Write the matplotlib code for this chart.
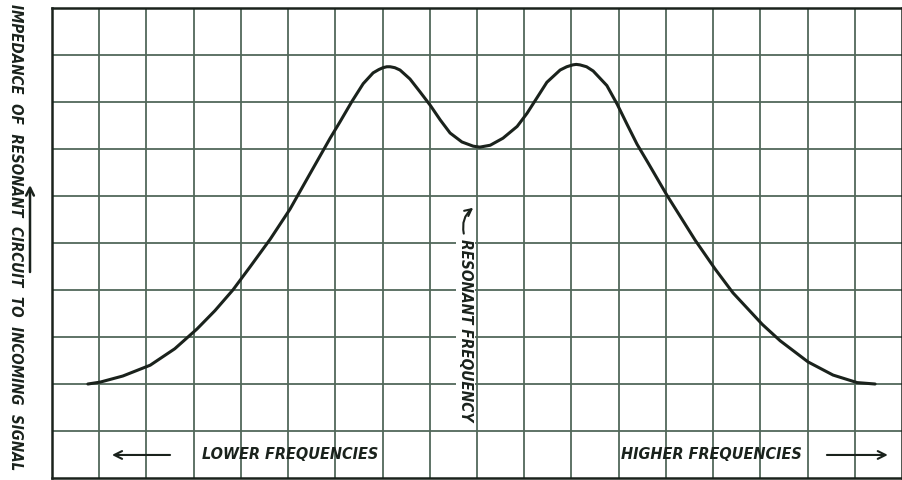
import matplotlib
matplotlib.use("Agg")
import matplotlib.pyplot as plt

# curve (x in columns, y in rows)
freq = [0.76, 1.02, 1.5, 2.08, 2.6, 3.07, 3.45, 3.83, 4.2, 4.62, 5.04, 5.45, 5.89, 6.10, 6.35,
        6.59, 6.80, 6.92, 7.01, 7.09, 7.16, 7.26, 7.37, 7.58, 7.79, 8.01, 8.22, 8.43, 8.68,
        8.92, 9.06, 9.28, 9.55, 9.85, 10.06, 10.27, 10.48, 10.76, 10.90, 11.03, 11.10, 11.18,
        11.32, 11.46, 11.75, 11.97, 12.18, 12.39, 12.62, 13.02, 13.62, 14.04, 14.42, 15.04,
        15.42, 16.01, 16.54, 17.05, 17.43]
imped = [2.00, 2.04, 2.17, 2.40, 2.75, 3.17, 3.56, 4.00, 4.50, 5.08, 5.72, 6.45, 7.23, 7.58, 8.01,
         8.39, 8.62, 8.69, 8.73, 8.75, 8.75, 8.73, 8.68, 8.49, 8.22, 7.93, 7.62, 7.34, 7.15,
         7.06, 7.04, 7.08, 7.23, 7.48, 7.76, 8.09, 8.42, 8.68, 8.75, 8.79, 8.80, 8.79,
         8.75, 8.66, 8.35, 7.95, 7.52, 7.10, 6.71, 6.02, 5.06, 4.45, 3.94, 3.27,
         2.92, 2.47, 2.19, 2.03, 2.00]

n_cols = 18
n_rows = 10

grid_col = "#52685a"
ink = "#1a221c"
font = dict(family="DejaVu Sans", fontweight="bold", fontstyle="italic",
            fontstretch="condensed", color=ink)

fig = plt.figure(figsize=(9.03, 4.80), dpi=100)
ax = fig.add_axes([52 / 903, 2 / 480, 850 / 903, 470 / 480])
ax.set_xlim(0, n_cols)
ax.set_ylim(0, n_rows)

for i in range(1, n_cols):
    ax.axvline(i, color=grid_col, lw=1.3, zorder=1)
for j in range(1, n_rows):
    ax.axhline(j, color=grid_col, lw=1.3, zorder=1)

for s in ax.spines.values():
    s.set_color(ink)
    s.set_linewidth(1.8)
ax.set_xticks([])
ax.set_yticks([])

ax.plot(freq, imped, color=ink, lw=2.2, zorder=3, solid_capstyle="round",
        solid_joinstyle="round")

# resonant frequency marker
ax.text(8.75, 3.15, "RESONANT FREQUENCY", rotation=270, ha="center", va="center",
        fontsize=11, zorder=4, bbox=dict(facecolor="white", edgecolor="none", pad=1.5), **font)
ax.annotate("", xy=(8.92, 5.75), xytext=(8.72, 5.2),
            arrowprops=dict(arrowstyle="->", color=ink, lw=1.5, mutation_scale=12,
                            shrinkA=0, shrinkB=0,
                            connectionstyle="arc3,rad=-0.3"), zorder=4)

# bottom labels
ax.text(5.04, 0.49, "LOWER FREQUENCIES", ha="center", va="center", fontsize=11.6, **font)
ax.text(13.96, 0.49, "HIGHER FREQUENCIES", ha="center", va="center", fontsize=11.6, **font)
ax.annotate("", xy=(1.27, 0.49), xytext=(2.5, 0.49),
            arrowprops=dict(arrowstyle="->", color=ink, lw=1.5, mutation_scale=14,
                            shrinkA=0, shrinkB=0))
ax.annotate("", xy=(17.7, 0.49), xytext=(16.41, 0.49),
            arrowprops=dict(arrowstyle="->", color=ink, lw=1.5, mutation_scale=14,
                            shrinkA=0, shrinkB=0))

# y axis caption
fig.text(15 / 903, 0.506, "IMPEDANCE  OF  RESONANT  CIRCUIT  TO  INCOMING  SIGNAL",
         rotation=270, ha="center", va="center", fontsize=10.8, **font)
fig.add_artist(matplotlib.patches.FancyArrowPatch(
    (30 / 903, 1 - 272 / 480), (30 / 903, 1 - 185 / 480), transform=fig.transFigure,
    arrowstyle="->", mutation_scale=14, color=ink, lw=1.8, shrinkA=0, shrinkB=0))

fig.savefig("out.png", dpi=100, facecolor="white")
